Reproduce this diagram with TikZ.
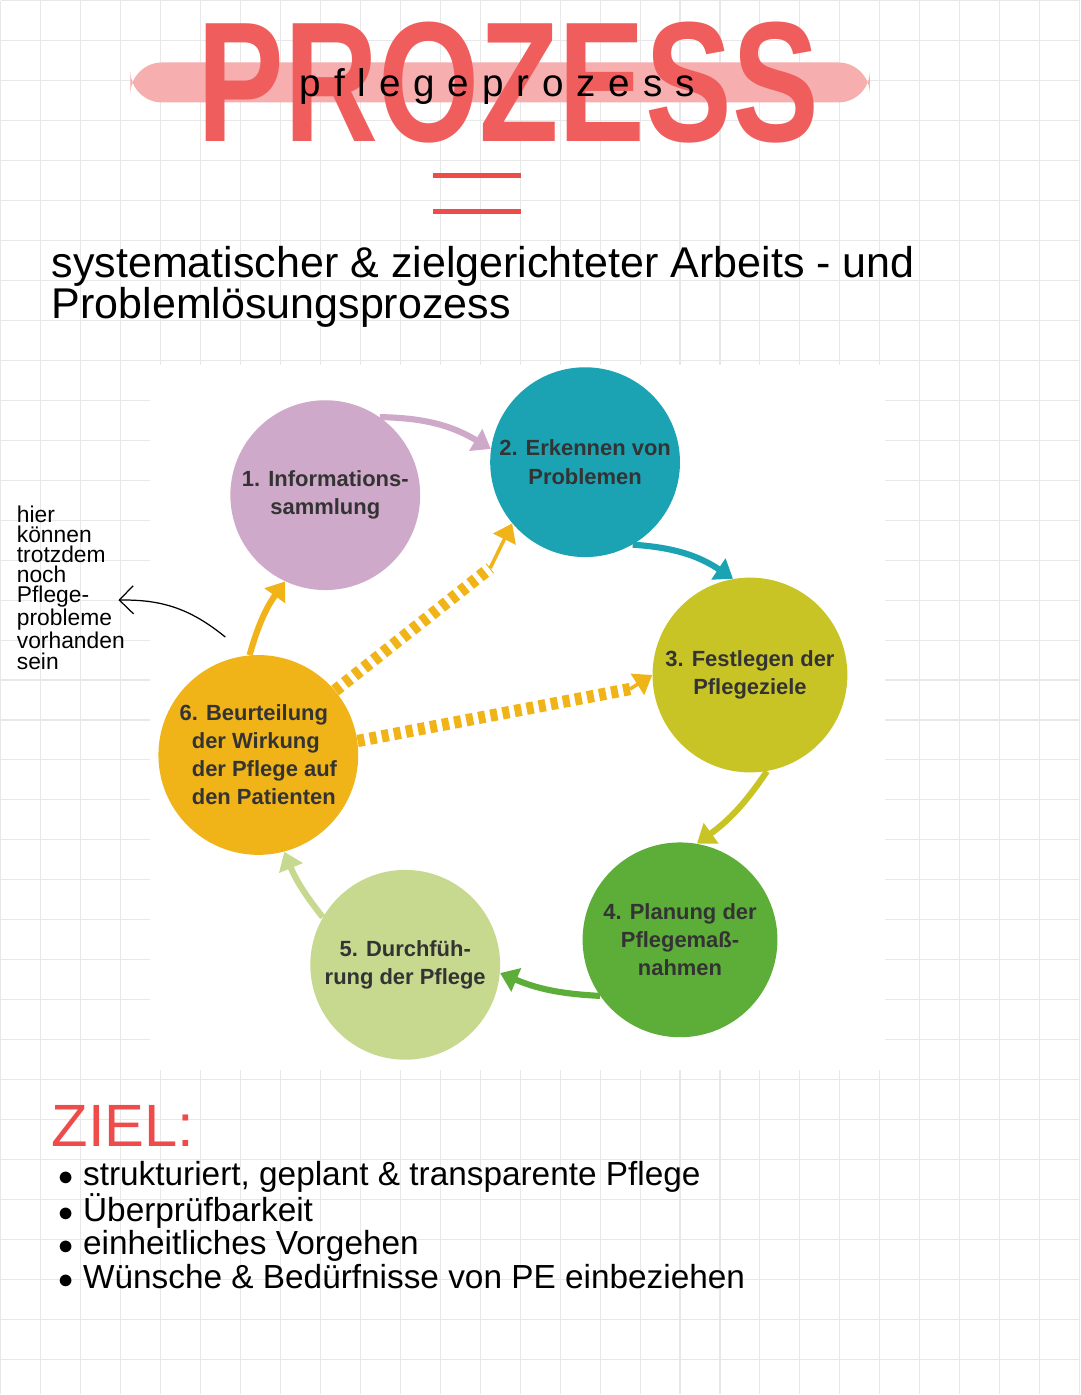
\documentclass[tikz,border=0pt]{standalone}
\usepackage{fontspec}
\setmainfont{Liberation Sans}
\usetikzlibrary{arrows.meta,positioning}
\definecolor{cinfo}{HTML}{CFA9C9}
\definecolor{cerk}{HTML}{1BA3B4}
\definecolor{cfest}{HTML}{C9C425}
\definecolor{cplan}{HTML}{5DAE38}
\definecolor{cdurch}{HTML}{C6D98F}
\definecolor{cbeur}{HTML}{F0B418}
\definecolor{cred}{HTML}{EE4B4B}
\tikzset
    {
        step circle/.style = {circle, align=center, minimum size=#1, inner sep=0pt, font=\bfseries\fontsize{12.5}{16}\selectfont, text=black!80},
        flow/.style = {line width=3.5pt, -{Triangle[length=10pt,width=14pt]}},
        note/.style = {font=\fontsize{15}{16}\selectfont, align=left, anchor=north west}
    }
\begin{document}
\begin{tikzpicture}[x=0.02cm,y=-0.02cm]
% page with grid
\fill[white] (0,0) rectangle (1080,1395);
\foreach \gx in {0,40,...,1080} \draw[black!9, line width=0.6pt] (\gx,0) -- (\gx,1395);
\foreach \gy in {0,40,...,1395} \draw[black!9, line width=0.6pt] (0,\gy) -- (1080,\gy);
\useasboundingbox (0,0) rectangle (1080,1395);
\fill[white] (150,365) rectangle (885,1070);
% title
\fill[cred!45, rounded corners=18pt] (130,62) rectangle (870,102);
\node[text=cred!90, font=\bfseries\fontsize{78}{78}\selectfont, xscale=0.95, yscale=1.25] (title) at (508,82) {PROZESS};
\node[font=\fontsize{22}{22}\selectfont] (sub) at (497,86) {p\,\,f\,\,l\,\,e\,\,g\,\,e\,\,p\,\,r\,\,o\,\,z\,\,e\,\,s\,\,s};
\draw[cred, line width=3pt] (433,175) -- (521,175) (433,211) -- (521,211);
\node[note, font=\fontsize{24.5}{23}\selectfont] (def) at (45,240) {systematischer \& zielgerichteter Arbeits - und\\Problemlösungsprozess};
% cycle
\node[step circle=3.8cm, fill=cinfo] (info) at (325,495) {1. Informations-\\sammlung};
\node[step circle=3.8cm, fill=cerk] (erk) at (585,462) {2. Erkennen von\\Problemen};
\node[step circle=3.9cm, fill=cfest] (fest) at (750,675) {3. Festlegen der\\Pflegeziele};
\node[step circle=3.9cm, fill=cplan] (plan) at (680,940) {4. Planung der\\Pflegemaß-\\nahmen};
\node[step circle=3.8cm, fill=cdurch] (durch) at (405,965) {5. Durchfüh-\\rung der Pflege};
\node[step circle=4cm, fill=cbeur, align=left] (beur) at (258,755) {6. Beurteilung\\ \ \ der Wirkung\\ \ \ der Pflege auf\\ \ \ den Patienten};
\draw[flow, cinfo] (info.55) to[bend left=15] (erk.172);
\draw[flow, cerk] (erk.-60) to[bend left=15] (fest.100);
\draw[flow, cfest] (fest.-80) to[bend left=10] (plan.80);
\draw[flow, cplan] (plan.-145) to[bend left=10] (durch.-5);
\draw[flow, cdurch] (durch.150) to[bend left=8] (beur.-75);
\draw[flow, cbeur] (beur.95) to[bend left=10] (info.-115);
\draw[cbeur, line width=7pt, dash pattern=on 4pt off 3pt] (beur.40) -- (490,568) coordinate (d1);
\draw[cbeur, -{Triangle[length=10pt,width=14pt]}, line width=2pt] (d1) -- (erk.-140);
\draw[cbeur, line width=7pt, dash pattern=on 4pt off 3pt] (beur.8) -- (630,689) coordinate (d2);
\draw[cbeur, -{Triangle[length=10pt,width=14pt]}, line width=2pt] (d2) -- (fest.180);
% note left
\node[note, font=\fontsize{13}{11.5}\selectfont, inner sep=0pt] (hint) at (16,505) {hier\\können\\trotzdem\\noch\\Pflege-\\probleme\\vorhanden\\sein};
\coordinate (hintend) at (118,600);
\draw[-{Straight Barb[length=8pt]}, line width=0.7pt] (225,637) to[bend right=20] (hintend);
% goal
\node[note, text=cred, font=\fontsize{34}{34}\selectfont] (ziel) at (45,1100) {ZIEL:};
\node[note, font=\fontsize{19}{19}\selectfont] (list) at (52,1155) {$\bullet$ strukturiert, geplant \& transparente Pflege\\$\bullet$ Überprüfbarkeit\\$\bullet$ einheitliches Vorgehen\\$\bullet$ Wünsche \& Bedürfnisse von PE einbeziehen};
\end{tikzpicture}
\end{document}
